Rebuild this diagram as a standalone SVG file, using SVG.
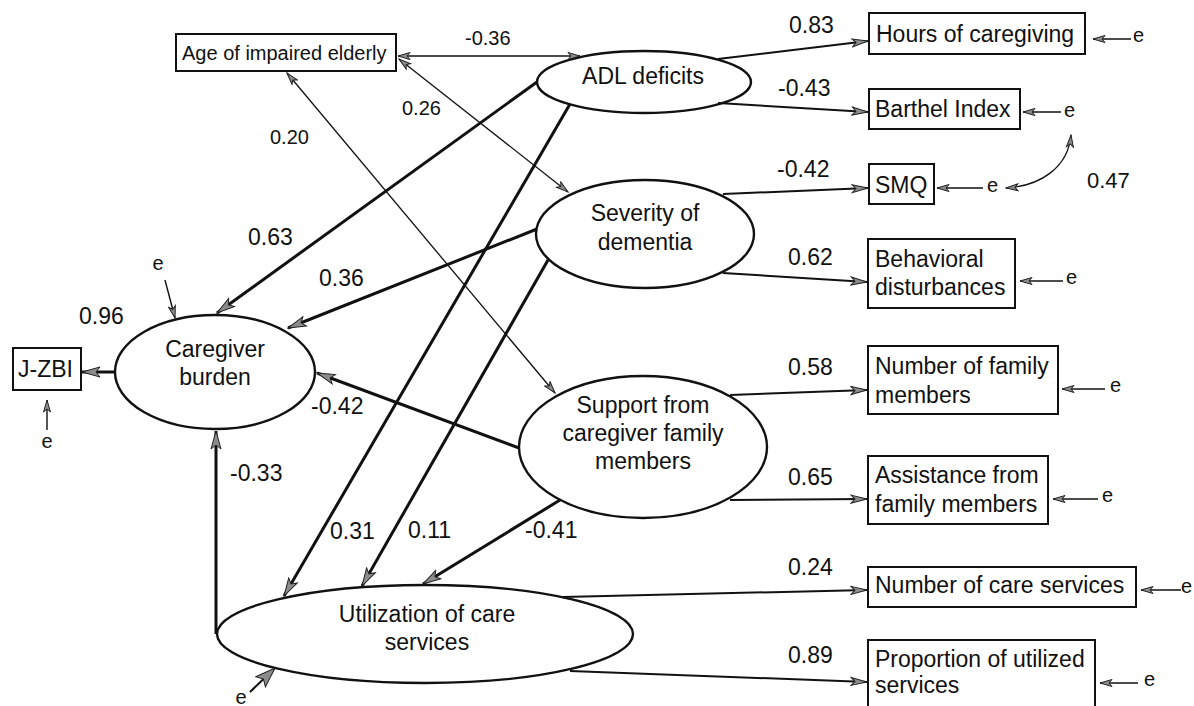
<svg xmlns="http://www.w3.org/2000/svg" width="1194" height="706" viewBox="0 0 1194 706">
<style>
text{font-family:"Liberation Sans",Arial,sans-serif;fill:#111}
.t23{font-size:23px}
.t20{font-size:20px}
.t22{font-size:22px}
.e{font-size:20px}
.mid{text-anchor:middle}
.node rect{fill:#fff;stroke:#111;stroke-width:2}
.node ellipse{fill:#fff;stroke:#111;stroke-width:2.4}
.thick{stroke:#111;stroke-width:3;fill:none;marker-end:url(#big)}
.ind{stroke:#111;stroke-width:2;fill:none;marker-end:url(#midA)}
.cov{stroke:#111;stroke-width:1.3;fill:none;marker-start:url(#sm);marker-end:url(#sm)}
.err{stroke:#111;stroke-width:1.4;fill:none;marker-end:url(#sm)}
</style>
<defs>
<marker id="big" viewBox="-1 -1 20 12" refX="18" refY="5" markerWidth="20" markerHeight="12" orient="auto-start-reverse" markerUnits="userSpaceOnUse"><path d="M0,0 L18,5 L0,10 L4,5 Z" fill="#8c8c8c" stroke="#222" stroke-width="1"/></marker>
<marker id="midA" viewBox="-1 -1 18 10" refX="16" refY="4" markerWidth="18" markerHeight="10" orient="auto-start-reverse" markerUnits="userSpaceOnUse"><path d="M0,0 L16,4 L0,8 L4,4 Z" fill="#8c8c8c" stroke="#222" stroke-width="1"/></marker>
<marker id="sm" viewBox="-1 -1 14 9" refX="12" refY="3.5" markerWidth="14" markerHeight="9" orient="auto-start-reverse" markerUnits="userSpaceOnUse"><path d="M0,0 L12,3.5 L0,7 L3,3.5 Z" fill="#8c8c8c" stroke="#222" stroke-width="1"/></marker>
<marker id="ue" viewBox="-1 -1 22 16" refX="20" refY="7" markerWidth="22" markerHeight="16" orient="auto" markerUnits="userSpaceOnUse"><path d="M0,0 L20,7 L0,14 L4,7 Z" fill="#8c8c8c" stroke="#222" stroke-width="1"/></marker>
</defs>

<g id="n-age" class="node"><rect x="176" y="34" width="220" height="37"/><text class="t20" x="182" y="60">Age of impaired elderly</text></g>
<g id="n-adl" class="node"><ellipse cx="644" cy="82" rx="107" ry="31"/><text class="t23 mid" x="643" y="84">ADL deficits</text></g>
<g id="n-sev" class="node"><ellipse cx="645" cy="234" rx="109" ry="54"/><text class="t23 mid" x="645" y="221">Severity of</text><text class="t23 mid" x="645" y="250">dementia</text></g>
<g id="n-sup" class="node"><ellipse cx="643" cy="447" rx="124" ry="71"/><text class="t23 mid" x="643" y="413">Support from</text><text class="t23 mid" x="643" y="441">caregiver family</text><text class="t23 mid" x="643" y="469">members</text></g>
<g id="n-cb" class="node"><ellipse cx="215" cy="372" rx="100" ry="57"/><text class="t23 mid" x="215" y="357">Caregiver</text><text class="t23 mid" x="215" y="385">burden</text></g>
<g id="n-util" class="node"><ellipse cx="425" cy="634" rx="208" ry="49"/><text class="t23 mid" x="427" y="622">Utilization of care</text><text class="t23 mid" x="427" y="650">services</text></g>
<g id="n-jzbi" class="node"><rect x="13" y="348" width="68" height="42"/><text class="t23" x="18" y="377">J-ZBI</text></g>
<g id="n-hours" class="node"><rect x="869" y="13" width="216" height="41"/><text class="t23" x="876" y="42">Hours of caregiving</text></g>
<g id="n-barthel" class="node"><rect x="869" y="89" width="151" height="40"/><text class="t23" x="875" y="117">Barthel Index</text></g>
<g id="n-smq" class="node"><rect x="869" y="164" width="65" height="40"/><text class="t23" x="875" y="193">SMQ</text></g>
<g id="n-beh" class="node"><rect x="868" y="239" width="147" height="69"/><text class="t23" x="875" y="267">Behavioral</text><text class="t23" x="875" y="295">disturbances</text></g>
<g id="n-nfam" class="node"><rect x="868" y="346" width="190" height="68"/><text class="t23" x="875" y="374">Number of family</text><text class="t23" x="875" y="403">members</text></g>
<g id="n-assist" class="node"><rect x="868" y="456" width="180" height="68"/><text class="t23" x="875" y="483">Assistance from</text><text class="t23" x="875" y="512">family members</text></g>
<g id="n-ncare" class="node"><rect x="868" y="567" width="268" height="40"/><text class="t23" x="875" y="593">Number of care services</text></g>
<g id="n-prop" class="node"><rect x="868" y="640" width="227" height="72"/><text class="t23" x="875" y="667">Proportion of utilized</text><text class="t23" x="875" y="693">services</text></g>

<g id="connectors">
<line class="cov" x1="398" y1="56" x2="580" y2="56"/>
<line class="cov" x1="399" y1="59" x2="568" y2="192"/>
<line class="cov" x1="287" y1="73" x2="555" y2="393"/>
<line class="thick" x1="537" y1="82" x2="217" y2="313"/>
<line class="thick" x1="537" y1="229" x2="288" y2="328"/>
<line class="thick" x1="519" y1="448" x2="317" y2="373"/>
<line class="thick" x1="216" y1="634" x2="216" y2="431"/>
<line class="thick" x1="570" y1="104" x2="284" y2="596"/>
<line class="thick" x1="548" y1="260" x2="362" y2="586"/>
<line class="thick" x1="560" y1="500" x2="423" y2="584"/>
<line class="thick" x1="115" y1="372" x2="82" y2="372"/>
<line class="ind" x1="718" y1="59" x2="868" y2="41"/>
<line class="ind" x1="718" y1="103" x2="868" y2="112"/>
<line class="ind" x1="723" y1="194" x2="868" y2="188"/>
<line class="ind" x1="723" y1="273" x2="867" y2="282"/>
<line class="ind" x1="730" y1="395" x2="867" y2="390"/>
<line class="ind" x1="730" y1="500" x2="867" y2="499"/>
<line class="ind" x1="563" y1="597" x2="867" y2="590"/>
<line class="ind" x1="570" y1="671" x2="867" y2="682"/>
<line class="err" x1="1131" y1="39" x2="1093" y2="39"/>
<line class="err" x1="1061" y1="112" x2="1023" y2="112"/>
<line class="err" x1="983" y1="188" x2="937" y2="188"/>
<path class="cov" d="M1071,135 C1068,168 1040,186 1006,188"/>
<line class="err" x1="1063" y1="281" x2="1020" y2="281"/>
<line class="err" x1="1105" y1="389" x2="1062" y2="389"/>
<line class="err" x1="1098" y1="499" x2="1053" y2="499"/>
<line class="err" x1="1181" y1="590" x2="1141" y2="590"/>
<line class="err" x1="1138" y1="683" x2="1100" y2="683"/>
<line class="err" x1="47" y1="430" x2="47" y2="400"/>
<line class="err" x1="165" y1="280" x2="175" y2="318"/>
<line x1="250" y1="692" x2="275" y2="668" stroke="#111" stroke-width="2" marker-end="url(#ue)"/>
</g>

<g id="labels">
<text class="t20" x="465" y="45">-0.36</text>
<text class="t20" x="402" y="115">0.26</text>
<text class="t20" x="270" y="144">0.20</text>
<text class="t23" x="248" y="245">0.63</text>
<text class="t23" x="319" y="286">0.36</text>
<text class="t23" x="311" y="414">-0.42</text>
<text class="t23" x="230" y="481">-0.33</text>
<text class="t23" x="330" y="539">0.31</text>
<text class="t23" x="408" y="538">0.11</text>
<text class="t23" x="525" y="538">-0.41</text>
<text class="t23" x="79" y="324">0.96</text>
<text class="t23" x="789" y="33">0.83</text>
<text class="t23" x="778" y="96">-0.43</text>
<text class="t23" x="777" y="177">-0.42</text>
<text class="t22" x="1087" y="188">0.47</text>
<text class="t23" x="788" y="265">0.62</text>
<text class="t23" x="788" y="375">0.58</text>
<text class="t23" x="788" y="485">0.65</text>
<text class="t23" x="788" y="575">0.24</text>
<text class="t23" x="788" y="663">0.89</text>
<text class="e" x="1133" y="42">e</text>
<text class="e" x="1064" y="117">e</text>
<text class="e" x="987" y="192">e</text>
<text class="e" x="1066" y="284">e</text>
<text class="e" x="1110" y="392">e</text>
<text class="e" x="1102" y="502">e</text>
<text class="e" x="1181" y="593">e</text>
<text class="e" x="1144" y="686">e</text>
<text class="e mid" x="47" y="448">e</text>
<text class="e mid" x="158" y="270">e</text>
<text class="e mid" x="241" y="704">e</text>
</g>
</svg>
